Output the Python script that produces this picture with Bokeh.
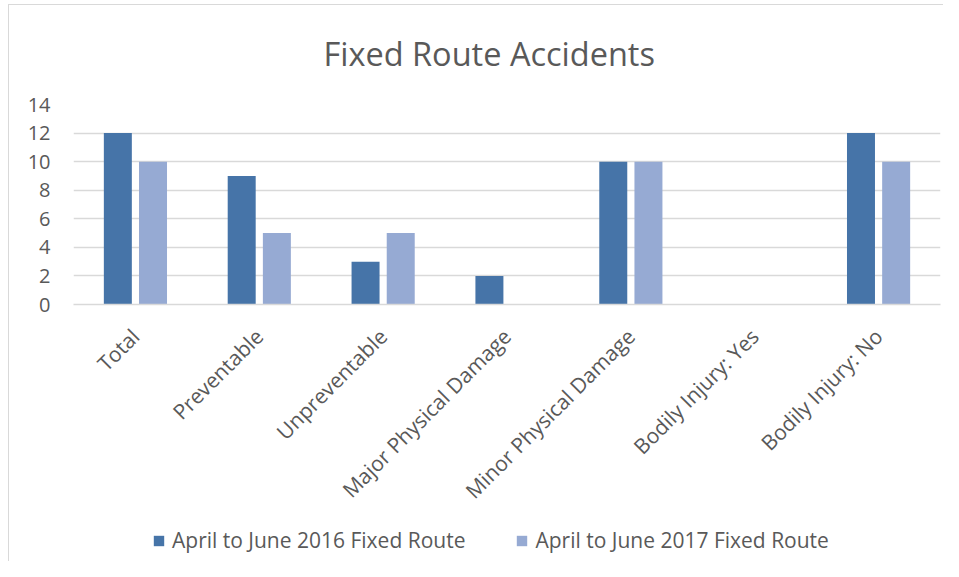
from math import pi
from bokeh.plotting import figure
from bokeh.layouts import column
from bokeh.models import FactorRange, Range1d, Legend, LegendItem, FixedTicker, ColumnDataSource
from bokeh.transform import dodge
from bokeh.embed import file_html
from bokeh.resources import INLINE

categories = ["Total", "Preventable", "Unpreventable", "Major Physical Damage",
              "Minor Physical Damage", "Bodily Injury: Yes", "Bodily Injury: No"]
q2_2016 = [12, 9, 3, 2, 10, 0, 12]
q2_2017 = [10, 5, 5, 0, 10, 0, 10]
series_names = ["April to June 2016 Fixed Route", "April to June 2017 Fixed Route"]
y_ticks = [0, 2, 4, 6, 8, 10, 12, 14]

FONT = "Open Sans"
TXT = "#595959"
GRID = "#d9d9d9"
C1 = "#4674a8"
C2 = "#96aad3"

W = 943
H_MAIN = 522
H_LEG = 39

src = ColumnDataSource(dict(cat=categories, a=q2_2016, b=q2_2017))

p = figure(x_range=FactorRange(*categories), y_range=Range1d(0, 14),
           width=W, height=H_MAIN, output_backend="svg", toolbar_location=None,
           title="Fixed Route Accidents",
           min_border_left=73, min_border_right=3, min_border_top=103,
           min_border_bottom=H_MAIN - 304)
p.border_fill_alpha = 0
p.styles = {
    "background-color": "white",
    "background-image": "linear-gradient(#d9d9d9,#d9d9d9), linear-gradient(#d9d9d9,#d9d9d9)",
    "background-size": "1px 100%, 100% 1px",
    "background-position": "8px 4px, 8px 4px",
    "background-repeat": "no-repeat",
}

r1 = p.vbar(x=dodge("cat", -0.142, range=p.x_range), top="a", width=0.226, source=src,
            fill_color=C1, line_color=None)
r2 = p.vbar(x=dodge("cat", 0.142, range=p.x_range), top="b", width=0.226, source=src,
            fill_color=C2, line_color=None)

p.title.text_font = FONT
p.title.text_font_size = "32.5px"
p.title.text_font_style = "normal"
p.title.text_color = TXT
p.title.align = "left"
p.title.offset = 250
p.title.standoff = 57

p.outline_line_color = None
p.xgrid.grid_line_color = None
p.ygrid.grid_line_color = GRID
p.ygrid.grid_line_width = 1.5
p.yaxis.ticker = FixedTicker(ticks=y_ticks)
p.yaxis.axis_line_color = None
p.yaxis.major_tick_line_color = None
p.yaxis.minor_tick_line_color = None
p.yaxis.major_tick_out = 0
p.yaxis.major_label_standoff = 23
p.yaxis.major_label_text_font_size = "20px"
p.xaxis.axis_line_color = GRID
p.xaxis.axis_line_width = 1.5
p.xaxis.major_tick_line_color = None
p.xaxis.major_tick_out = 0
p.xaxis.major_label_standoff = 28
p.xaxis.major_label_orientation = pi / 4
p.xaxis.major_label_text_font_size = "21px"
for ax in (p.xaxis, p.yaxis):
    ax.major_label_text_font = FONT
    ax.major_label_text_color = TXT

# legend strip below the chart (swatch renderers sit far outside the visible range)
pl = figure(width=W, height=H_LEG, x_range=(0, 1), y_range=(0, 1),
            output_backend="svg", toolbar_location=None, min_border=0)
pl.axis.visible = False
pl.grid.visible = False
pl.outline_line_color = None
pl.border_fill_alpha = 0
pl.background_fill_alpha = 0
pl.styles = {
    "background-color": "white",
    "background-image": "linear-gradient(#d9d9d9,#d9d9d9)",
    "background-size": "1px 100%",
    "background-position": "8px 0px",
    "background-repeat": "no-repeat",
}
l1 = pl.vbar(x=[-100], bottom=[-101], top=[-100], width=0.1, fill_color=C1, line_color=None)
l2 = pl.vbar(x=[-100], bottom=[-101], top=[-100], width=0.1, fill_color=C2, line_color=None)
legend = Legend(items=[LegendItem(label=series_names[0], renderers=[l1]),
                       LegendItem(label=series_names[1], renderers=[l2])],
                orientation="horizontal", location=(79, 7),
                glyph_width=13, glyph_height=13, label_standoff=7, spacing=50,
                label_text_font=FONT, label_text_font_size="21px", label_text_color=TXT,
                border_line_color=None, background_fill_alpha=0, padding=0, margin=0)
pl.add_layout(legend, "center")

layout = column(p, pl, spacing=0)
open("out.html", "w").write(file_html(layout, INLINE))
